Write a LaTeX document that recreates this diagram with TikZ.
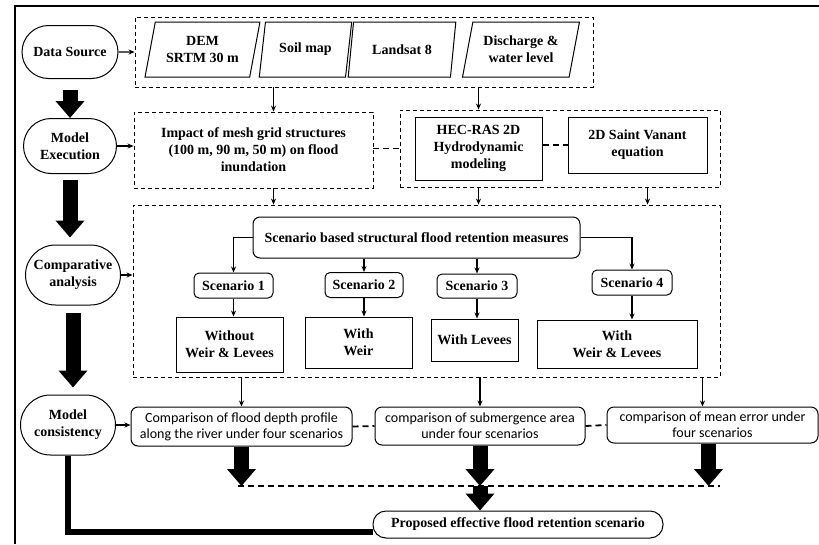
\documentclass[tikz,border=0pt]{standalone}
\usepackage{fontspec}
\setmainfont{Liberation Serif}
\newfontfamily\calfont{Carlito}
\usetikzlibrary{shapes.geometric,shapes.misc,arrows.meta}

\begin{document}
\begin{tikzpicture}[x=1pt,y=-1pt,line width=1.1pt,
	txt/.style={font=\fontsize{14}{17}\selectfont\bfseries,align=center,inner sep=1pt},
	stage/.style={txt,draw,rounded rectangle,line width=1pt},
	grp/.style={draw,dash pattern=on 4pt off 3pt,line width=0.9pt},
	para/.style={txt,draw,trapezium,trapezium left angle=74,trapezium right angle=106,
		trapezium stretches=true,minimum height=55pt,line width=1pt},
	box/.style={txt,draw,line width=1pt},
	rbox/.style={box,rounded corners=5pt},
	cbox/.style={draw,rounded corners=7pt,line width=1pt,align=center,inner sep=1pt,
		font=\calfont\fontsize{14}{16}\selectfont},
	arr/.style={-{Stealth[length=6pt,width=5pt]}},
	link/.style={dash pattern=on 6pt off 4pt,line width=1.8pt},
	bigarr/.style={line width=15pt,-{Triangle[width=28pt,length=17pt]}}]
		\useasboundingbox (0,0) rectangle (819,544);
		% frame
		\draw[line width=1.5pt] (15,544) -- (15,6) -- (819,6);

		% stages on the left
		\node[stage,minimum width=98pt,minimum height=53pt] (ds) at (70,52) {Data Source};
		\node[stage,minimum width=95pt,minimum height=55pt] (me) at (70,146) {Model\\Execution};
		\node[stage,minimum width=97pt,minimum height=60pt] (ca) at (73,275) {Comparative\\analysis};
		\node[stage,minimum width=97pt,minimum height=60pt] (mc) at (68,425) {Model\\consistency};

		% data
		\node[grp,minimum width=458pt,minimum height=70pt] (src) at (364,52) {};
		\node[para,minimum width=115pt] (dem) at (202.5,49.5) {DEM\\SRTM 30 m};
		\node[para,minimum width=93pt] (soil) at (305.5,49.5) {Soil map};
		\node[para,minimum width=108pt] (land) at (402,49.5) {Landsat 8};
		\node[para,minimum width=118pt] (dis) at (521,49.5) {Discharge \&\\water level};

		% model execution
		\node[grp,minimum width=239pt,minimum height=76pt,txt] (imp) at (253.5,150)
			{Impact of mesh grid structures\\(100 m, 90 m, 50 m) on flood\\inundation};
		\node[grp,minimum width=320pt,minimum height=77pt] (hecg) at (560,148.5) {};
		\node[box,minimum width=127pt,minimum height=63pt] (hec) at (478.5,148.5)
			{HEC-RAS 2D\\Hydrodynamic\\modeling};
		\node[box,minimum width=139pt,minimum height=56pt] (sv) at (637.5,145)
			{2D Saint Vanant\\equation};

		% scenarios
		\node[grp,minimum width=587pt,minimum height=172pt] (scg) at (426.5,291) {};
		\node[rbox,rounded corners=7pt,minimum width=327pt,minimum height=41pt] (sbm) at (416.5,237.5)
			{Scenario based structural flood retention measures};
		\node[rbox,minimum width=79pt,minimum height=25pt] (sc1) at (233.5,285.5) {Scenario 1};
		\node[rbox,minimum width=78pt,minimum height=25pt] (sc2) at (364,285) {Scenario 2};
		\node[rbox,minimum width=80pt,minimum height=24pt] (sc3) at (477,286) {Scenario 3};
		\node[rbox,minimum width=80pt,minimum height=25pt] (sc4) at (632,282.5) {Scenario 4};
		\node[box,minimum width=107pt,minimum height=55pt] (wo) at (229.5,344.5) {Without\\Weir \& Levees};
		\node[box,minimum width=107pt,minimum height=51pt] (ww) at (358.5,342.5) {With\\Weir};
		\node[box,minimum width=87pt,minimum height=42pt] (wl) at (474.5,340) {With Levees};
		\node[box,minimum width=160pt,minimum height=48pt] (wwl) at (617,344) {With\\Weir \& Levees};

		% comparison
		\node[cbox,minimum width=221pt,minimum height=39pt] (c1) at (241.5,426.5)
			{Comparison of flood depth profile\\along the river under four scenarios};
		\node[cbox,minimum width=210pt,minimum height=38pt] (c2) at (480,426)
			{comparison of submergence area\\under four scenarios};
		\node[cbox,minimum width=211pt,minimum height=36pt] (c3) at (712.5,425)
			{comparison of mean error under\\four scenarios};
		\coordinate (dl1) at (238,486);
		\coordinate (dl2) at (720,486);
		\node[box,rounded corners=13pt,minimum width=290pt,minimum height=27pt] (prop) at (518,524.5)
			{Proposed effective flood retention scenario};

		% thin arrows
		\draw[arr] (ds) -- (src);
		\draw[arr] ([xshift=20pt]imp.north |- src.south) -- ([xshift=20pt]imp.north);
		\draw[arr] (hec.north |- src.south) -- (hec.north |- hecg.north);
		\draw[arr] (me.east) -- (me.east -| imp.west);
		\draw[link] (imp.east |- hec) -- (hecg.west |- hec);
		\draw[link] (hec.east |- sv) -- (sv.west);
		\draw[arr] ([xshift=20pt]imp.south) -- ([xshift=20pt]imp.south |- scg.north);
		\draw[arr] (hec.south |- hecg.south) -- (hec.south |- scg.north);
		\draw[arr] ([xshift=10pt]sv.south |- hecg.south) -- ([xshift=10pt]sv.south |- scg.north);
		\draw[arr] (ca.east) -- (ca.east -| scg.west);
		\draw[arr] (sbm.west) -| (sc1.north);
		\draw[arr] (sc2.north |- sbm.south) -- (sc2.north);
		\draw[arr] (sc3.north |- sbm.south) -- (sc3.north);
		\draw[arr] (sbm.east) -| (sc4.north);
		\draw[arr] (sc1.south) -- (sc1.south |- wo.north);
		\draw[arr] (sc2.south) -- (sc2.south |- ww.north);
		\draw[arr] (sc3.south) -- (sc3.south |- wl.north);
		\draw[arr] (sc4.south) -- (sc4.south |- wwl.north);
		\draw[arr] (c1.north |- scg.south) -- (c1.north);
		\draw[arr] (c2.north |- scg.south) -- (c2.north);
		\draw[arr] ([xshift=-10pt]c3.north |- scg.south) -- ([xshift=-10pt]c3.north);
		\draw[arr] (mc.east) -- (mc.east -| c1.west);
		\draw[link] (c1.east) -- (c2.west);
		\draw[link] (c2.east) -- (c3.west);
		\draw[link] (dl1) -- (dl2);

		% big arrows
		\draw[bigarr,shorten <=11pt] (ds.south) -- (ds.south |- me.north);
		\draw[bigarr,shorten <=6pt,shorten >=7pt] (me.south) -- (me.south |- ca.north);
		\draw[bigarr,shorten <=7pt,shorten >=7pt] (ca.south) -- (ca.south |- mc.north);
		\draw[bigarr] (c1.south) -- (c1.south |- dl1);
		\draw[bigarr] (c2.south) -- (c2.south |- dl1);
		\draw[bigarr] ([xshift=-4pt]c3.south) -- ([xshift=-4pt]c3.south |- dl1);
		\draw[bigarr] (c2.south |- dl1) -- (c2.south |- prop.north);
		\draw[line width=6pt] (mc.south) |- ([yshift=-7pt]prop.west);
	\end{tikzpicture}
\end{document}
